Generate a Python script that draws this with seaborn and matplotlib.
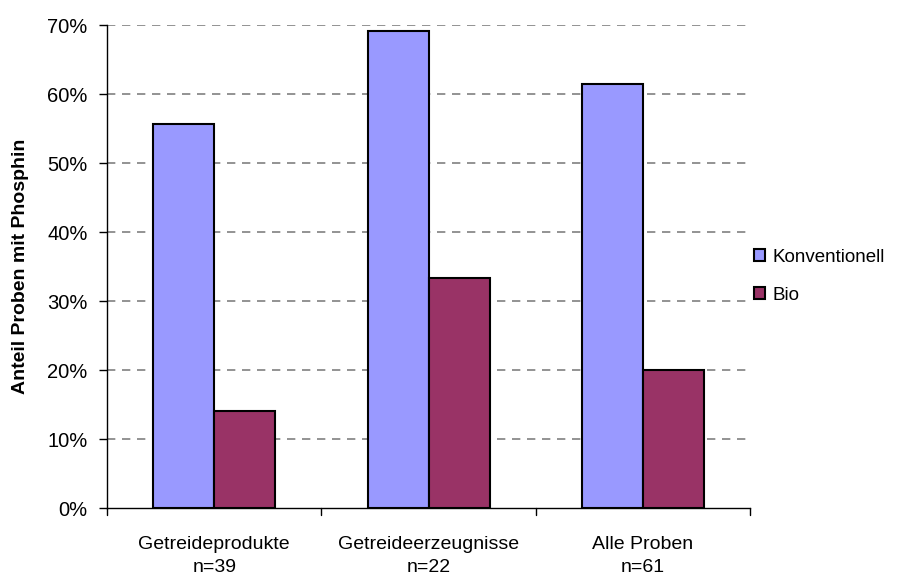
import matplotlib
matplotlib.use("Agg")
import matplotlib.pyplot as plt
import seaborn as sns
import pandas as pd

categories = ["Getreideprodukte\nn=39", "Getreideerzeugnisse\nn=22", "Alle Proben\nn=61"]
series_names = ["Konventionell", "Bio"]
konventionell = [55.6, 69.2, 61.4]
bio = [14.1, 33.3, 20.0]
y_ticks = [0, 10, 20, 30, 40, 50, 60, 70]
y_tick_labels = ["0%", "10%", "20%", "30%", "40%", "50%", "60%", "70%"]
y_label = "Anteil Proben mit Phosphin"

df = pd.DataFrame({
    "Kategorie": categories * 2,
    "Serie": [series_names[0]] * 3 + [series_names[1]] * 3,
    "Wert": konventionell + bio,
})

sns.set_theme(style="white")
plt.rcParams["font.family"] = ["Liberation Sans", "DejaVu Sans"]
plt.rcParams["text.color"] = "black"
plt.rcParams["axes.labelcolor"] = "black"
plt.rcParams["xtick.color"] = "black"
plt.rcParams["ytick.color"] = "black"

fig = plt.figure(figsize=(9.19, 5.78), dpi=100)
ax = fig.add_axes([0.1164, 0.121, 0.7, 0.8357])

palette = {"Konventionell": "#9999ff", "Bio": "#993366"}
sns.barplot(data=df, x="Kategorie", y="Wert", hue="Serie", palette=palette,
            width=0.57, edgecolor="black", linewidth=1.5, saturation=1,
            ax=ax, zorder=3)

ax.set_ylim(0, 70)
ax.set_xlim(-0.5, 2.5)
ax.set_yticks(y_ticks)
ax.set_yticklabels(y_tick_labels, fontsize=14.5)
for lbl in ax.get_xticklabels():
    lbl.set_linespacing(1.45)
ax.tick_params(axis="x", labelsize=14, length=0, pad=20)
ax.tick_params(axis="y", length=6, width=1, color="black", left=True, pad=8)
ax.set_xlabel("")
ax.set_ylabel(y_label, fontsize=14, fontweight="bold", labelpad=13)

for y in y_ticks[1:]:
    ax.axhline(y, color="#808080", linestyle=(0, (5, 4)), linewidth=1.2, zorder=1)

for x in [-0.5, 0.5, 1.5, 2.5]:
    ax.plot([x, x], [0, -1.0], color="black", linewidth=1, clip_on=False)

for side in ["top", "right"]:
    ax.spines[side].set_visible(False)
ax.spines["left"].set_color("black")
ax.spines["bottom"].set_color("black")
ax.spines["left"].set_linewidth(1)
ax.spines["bottom"].set_linewidth(1)

handles, labels = ax.get_legend_handles_labels()
ax.legend(handles, labels, loc="center left", bbox_to_anchor=(1.0, 0.48),
          frameon=False, fontsize=13.5, handlelength=0.6, handleheight=0.6,
          handletextpad=0.4, labelspacing=1.1, borderpad=0, borderaxespad=0.2)

fig.savefig("out.png", dpi=100)
